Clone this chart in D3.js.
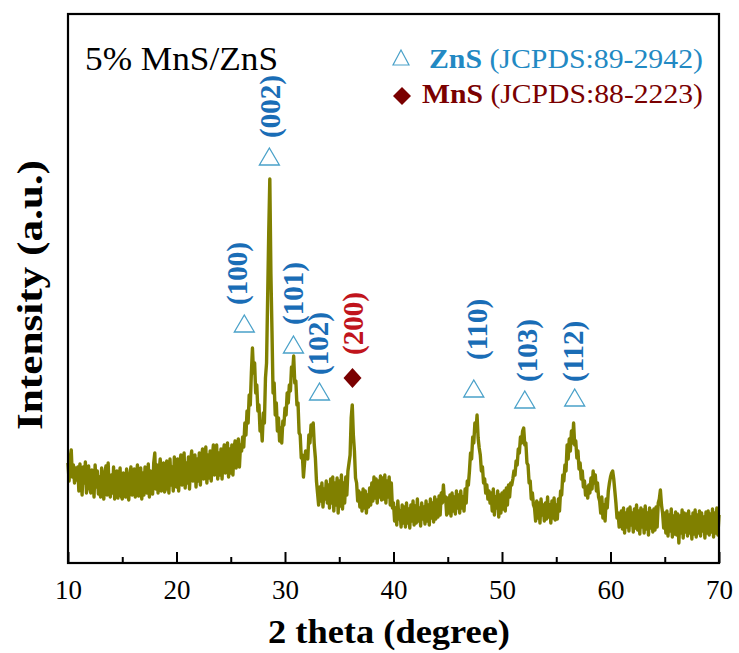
<!DOCTYPE html>
<html>
<head>
<meta charset="utf-8">
<script src="https://cdn.jsdelivr.net/npm/d3@7"></script>
<style>
  body { margin: 0; background: #fff; }
  text { font-family: "Liberation Serif", "Times New Roman", serif; }
</style>
</head>
<body>
<div id="chart"></div>
<script>
// XRD pattern of 5% MnS/ZnS, 2 theta from 10 to 70 in 0.1 degree steps
var thetaStart = 10;
var thetaStep = 0.1;
var intensity = [
  100, 82, 105, 113, 86, 98, 80, 95, 83, 96,
  72, 99, 85, 68, 96, 80, 101, 70, 88, 97,
  75, 70, 93, 84, 66, 98, 76, 92, 69, 86,
  66, 95, 78, 64, 90, 97, 68, 100, 74, 66,
  88, 70, 96, 64, 82, 92, 65, 78, 95, 67,
  64, 90, 82, 66, 94, 70, 63, 88, 96, 68,
  72, 94, 66, 86, 98, 67, 80, 95, 64, 90,
  68, 96, 84, 70, 99, 66, 92, 80, 69, 100,
  110, 74, 98, 70, 92, 104, 72, 88, 100, 71,
  74, 102, 86, 70, 104, 78, 96, 72, 106, 84,
  76, 104, 72, 98, 108, 78, 92, 110, 75, 100,
  80, 106, 74, 102, 112, 82, 96, 108, 76, 104,
  82, 110, 78, 104, 114, 84, 100, 116, 80, 108,
  85, 112, 82, 106, 118, 88, 104, 118, 84, 110,
  88, 114, 84, 110, 118, 90, 106, 120, 86, 114,
  90, 118, 88, 114, 122, 95, 110, 124, 96, 118,
  112, 126, 116, 140, 128, 152, 140, 168, 158, 190,
  215, 190, 200, 170, 178, 152, 158, 132, 140, 122,
  150, 140, 185, 200, 265, 330, 384, 290, 232, 170,
  180, 148, 160, 132, 145, 122, 135, 120, 142, 138,
  155, 148, 170, 160, 178, 172, 196, 190, 207, 180,
  182, 158, 160, 130, 128, 105, 108, 86, 100, 112,
  110, 104, 128, 120, 138, 128, 140, 118, 105, 82,
  70, 58, 76, 62, 80, 56, 74, 64, 82, 60,
  78, 55, 84, 60, 86, 52, 80, 58, 85, 50,
  82, 57, 88, 54, 80, 60, 86, 68, 92, 100,
  108, 145, 158, 128, 112, 85, 80, 62, 72, 56,
  70, 52, 74, 55, 72, 50, 68, 56, 75, 58,
  80, 62, 86, 65, 84, 60, 82, 66, 87, 63,
  85, 64, 88, 60, 82, 66, 86, 58, 80, 55,
  60, 42, 55, 38, 62, 44, 52, 36, 58, 40,
  56, 36, 60, 40, 54, 35, 58, 42, 62, 38,
  57, 40, 64, 42, 55, 37, 60, 44, 56, 39,
  62, 42, 58, 38, 64, 45, 60, 41, 66, 44,
  63, 46, 67, 48, 70, 60, 78, 62, 66, 48,
  65, 50, 68, 47, 70, 52, 66, 49, 72, 55,
  68, 50, 72, 55, 66, 52, 74, 60, 82, 78,
  92, 110, 104, 126, 120, 140, 132, 148, 125, 115,
  108, 92, 96, 80, 84, 70, 78, 64, 72, 60,
  70, 52, 74, 48, 66, 55, 72, 46, 68, 50,
  70, 54, 72, 52, 75, 58, 78, 66, 80, 78,
  84, 92, 88, 102, 98, 114, 110, 126, 120, 132,
  135, 118, 120, 100, 98, 80, 82, 64, 70, 58,
  55, 42, 62, 45, 60, 40, 64, 48, 58, 42,
  60, 44, 66, 46, 58, 40, 62, 45, 65, 43,
  58, 44, 64, 52, 72, 68, 88, 82, 98, 92,
  118, 104, 124, 112, 132, 120, 140, 118, 122, 105,
  112, 94, 100, 84, 92, 76, 82, 68, 76, 65,
  78, 70, 85, 74, 92, 80, 88, 72, 80, 66,
  62, 50, 66, 45, 58, 42, 64, 55, 72, 80,
  86, 90, 92, 84, 72, 60, 45, 50, 36, 48,
  52, 34, 55, 30, 50, 36, 54, 32, 56, 38,
  50, 31, 54, 35, 58, 33, 52, 29, 55, 36,
  53, 30, 57, 34, 50, 28, 55, 35, 52, 31,
  54, 33, 56, 36, 60, 64, 73, 58, 50, 35,
  50, 30, 52, 27, 48, 32, 54, 26, 47, 29,
  51, 28, 49, 20, 47, 30, 53, 25, 50, 31,
  49, 27, 52, 30, 46, 24, 50, 29, 53, 26,
  48, 30, 52, 27, 50, 32, 46, 25, 51, 30,
  52, 28, 49, 31, 54, 26, 50, 30, 55, 28,
  48
];

// peak annotations (marker position and label bottom, in data units)
var peakLabels = ["(100)", "(002)", "(101)", "(102)", "(200)", "(110)", "(103)", "(112)"];
var peakPhase = ["ZnS", "ZnS", "ZnS", "ZnS", "MnS", "ZnS", "ZnS", "ZnS"];
var markerTheta = [26.25, 28.56, 30.78, 33.18, 36.22, 47.4, 52.1, 56.7];
var markerI = [239, 406, 218, 171, 185, 174, 163, 165];
var labelTheta = [25.6, 28.65, 30.78, 33.08, 36.3, 47.67, 52.3, 56.5];
var labelI = [258, 425, 238, 188, 208, 203, 181, 181];

var xTicks = [10, 20, 30, 40, 50, 60, 70];
var xMinorTicks = [15, 25, 35, 45, 55, 65];

var sampleName = "5% MnS/ZnS";
var legendPhases = ["ZnS", "MnS"];
var legendCards = [" (JCPDS:89-2942)", " (JCPDS:88-2223)"];

var svgWidth = 739;
var svgHeight = 653;
var margin = { top: 14, right: 20, bottom: 90, left: 68 };
var width = 719 - margin.left;
var height = 563 - margin.top;

var blue = "#1a6db6";
var legendBlue = "#2289c3";
var triBlue = "#4aa1c9";
var darkRed = "#7a0000";
var labelRed = "#c0141c";

var svg = d3.select("#chart")
  .append("svg")
  .attr("width", svgWidth)
  .attr("height", svgHeight);

var chartGroup = svg.append("g")
  .attr("transform", `translate(${margin.left}, ${margin.top})`);

var xScale = d3.scaleLinear().domain([10, 70]).range([0, width]);
var yScale = d3.scaleLinear().domain([0, 549]).range([height, 0]);

var pattern = intensity.map(function(v, i) {
  return { theta: thetaStart + i * thetaStep, value: v };
});

// curve
var line = d3.line()
  .x(d => xScale(d.theta))
  .y(d => yScale(d.value));

chartGroup.append("path")
  .datum(pattern)
  .attr("fill", "none")
  .attr("stroke", "#808000")
  .attr("stroke-width", 3.4)
  .attr("stroke-linejoin", "round")
  .attr("d", line);

// bottom axis with inward ticks
var bottomAxis = d3.axisBottom(xScale)
  .tickValues(xTicks)
  .tickSizeInner(-11)
  .tickSizeOuter(0)
  .tickPadding(17);

var xAxis = chartGroup.append("g")
  .attr("transform", `translate(0, ${height})`)
  .call(bottomAxis);

xAxis.select(".domain").remove();
xAxis.selectAll(".tick line").attr("stroke", "#000").attr("stroke-width", 2);
xAxis.selectAll(".tick text")
  .attr("font-size", "27px")
  .attr("font-family", "Liberation Serif, serif")
  .attr("fill", "#000");

chartGroup.append("g")
  .attr("transform", `translate(0, ${height})`)
  .call(d3.axisBottom(xScale).tickValues(xMinorTicks).tickSizeInner(-6).tickSizeOuter(0).tickFormat(""))
  .call(g => g.select(".domain").remove())
  .selectAll(".tick line").attr("stroke", "#000").attr("stroke-width", 2);

// frame
chartGroup.append("rect")
  .attr("x", 0)
  .attr("y", 0)
  .attr("width", width)
  .attr("height", height)
  .attr("fill", "none")
  .attr("stroke", "#000")
  .attr("stroke-width", 2.2);

// markers
var triPath = "M0,-9L10,8L-10,8Z";
var diamondPath = "M0,-10L9,0L0,10L-9,0Z";

peakLabels.forEach(function(lbl, i) {
  var mx = xScale(markerTheta[i]);
  var my = yScale(markerI[i]);
  var isMnS = peakPhase[i] === "MnS";
  chartGroup.append("path")
    .attr("d", isMnS ? diamondPath : triPath)
    .attr("transform", `translate(${mx}, ${my})`)
    .attr("fill", isMnS ? darkRed : "none")
    .attr("stroke", isMnS ? "none" : triBlue)
    .attr("stroke-width", 1.3);

  var lx = xScale(labelTheta[i]);
  var ly = yScale(labelI[i]);
  chartGroup.append("text")
    .attr("transform", `translate(${lx}, ${ly}) rotate(-90)`)
    .attr("dominant-baseline", "central")
    .attr("font-size", "29px")
    .attr("font-weight", "bold")
    .attr("fill", isMnS ? labelRed : blue)
    .text(lbl);
});

// sample name
svg.append("text")
  .attr("x", 85)
  .attr("y", 70)
  .attr("font-size", "33px")
  .attr("textLength", 193)
  .attr("lengthAdjust", "spacingAndGlyphs")
  .text(sampleName);

// legend
svg.append("path")
  .attr("d", "M0,-8L8,7L-8,7Z")
  .attr("transform", "translate(401, 58)")
  .attr("fill", "none")
  .attr("stroke", triBlue)
  .attr("stroke-width", 1.2);

svg.append("path")
  .attr("d", "M0,-9L9,0L0,9L-9,0Z")
  .attr("transform", "translate(402, 96)")
  .attr("fill", darkRed);

var leg1 = svg.append("text")
  .attr("x", 429)
  .attr("y", 68)
  .attr("font-size", "27px")
  .attr("fill", legendBlue)
  .attr("textLength", 274)
  .attr("lengthAdjust", "spacingAndGlyphs");
leg1.append("tspan").attr("font-weight", "bold").text(legendPhases[0]);
leg1.append("tspan").text(legendCards[0]);

var leg2 = svg.append("text")
  .attr("x", 422)
  .attr("y", 103)
  .attr("font-size", "27px")
  .attr("fill", darkRed)
  .attr("textLength", 281)
  .attr("lengthAdjust", "spacingAndGlyphs");
leg2.append("tspan").attr("font-weight", "bold").text(legendPhases[1]);
leg2.append("tspan").text(legendCards[1]);

// axis titles
svg.append("text")
  .attr("x", 389)
  .attr("y", 643)
  .attr("text-anchor", "middle")
  .attr("font-size", "33px")
  .attr("font-weight", "bold")
  .attr("textLength", 242)
  .attr("lengthAdjust", "spacingAndGlyphs")
  .text("2 theta (degree)");

svg.append("text")
  .attr("transform", "translate(42, 295) rotate(-90)")
  .attr("text-anchor", "middle")
  .attr("font-size", "36px")
  .attr("font-weight", "bold")
  .attr("textLength", 270)
  .attr("lengthAdjust", "spacingAndGlyphs")
  .text("Intensity (a.u.)");
</script>
</body>
</html>
